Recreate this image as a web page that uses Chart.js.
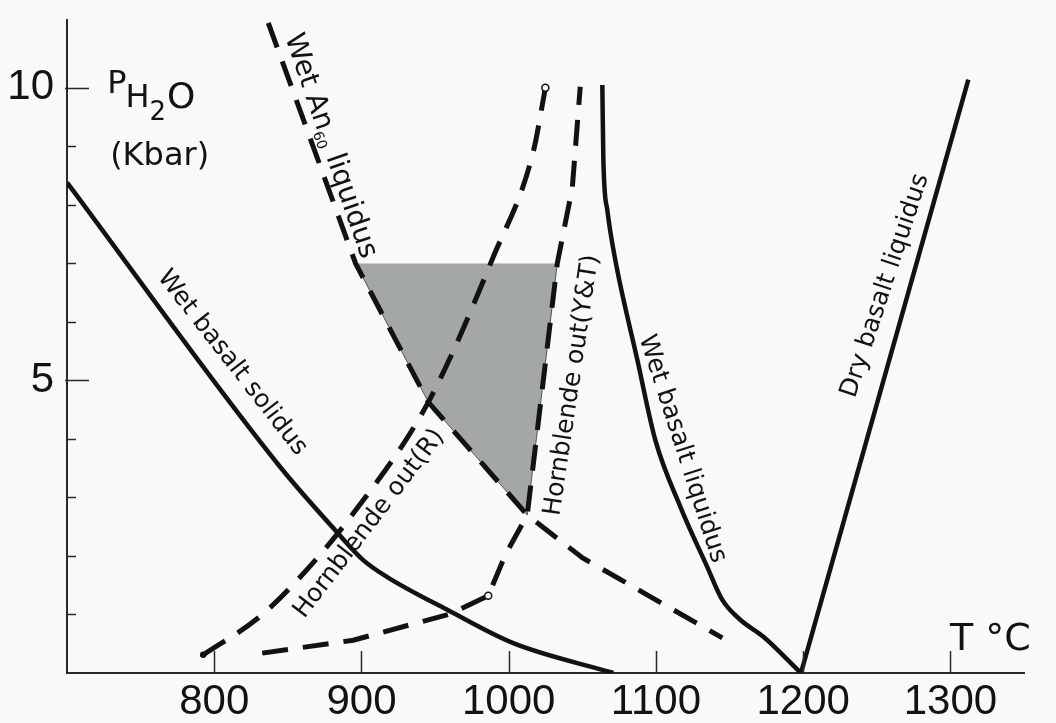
<!DOCTYPE html>
<html>
<head>
<meta charset="utf-8">
<title>Basalt melting relations</title>
<script src="https://cdn.jsdelivr.net/npm/chart.js@4.4.1/dist/chart.umd.min.js"></script>
<style>
  html, body { margin: 0; padding: 0; background: #f9f9f8; }
  #wrap { width: 1056px; height: 723px; position: relative; }
</style>
</head>
<body>
<div id="wrap"><canvas id="phaseChart"></canvas></div>
<script>
// temperature (°C) / water pressure (kbar) along each boundary
const solidusT = [700.1, 844.8, 882.2, 901.2, 917.5, 958.3, 1003.1, 1071.1];
const solidusP = [8.38, 3.52, 2.44, 1.93, 1.64, 1.08, 0.51, 0];

const wetLiqT = [1063.6, 1064.3, 1067.0, 1072.4, 1087.4, 1099.6, 1116.6, 1134.9, 1145.1, 1157.3, 1173.0, 1198.5];
const wetLiqP = [10.05, 8.77, 7.91, 7.06, 5.35, 3.98, 2.84, 1.81, 1.25, 0.91, 0.62, 0];

const dryLiqT = [1198.5, 1312.2];
const dryLiqP = [0, 10.14];

const an60T = [836.7, 896.0, 945.4, 1012.6, 1050.0, 1145.1];
const an60P = [11.11, 7.0, 4.63, 2.70, 1.97, 0.60];

const hbRT = [792.5, 831.3, 858.4, 895.1, 945.4, 989.5, 1016.7, 1024.9];
const hbRP = [0.31, 0.97, 1.64, 2.75, 4.63, 7.11, 8.91, 10.0];

const hbYTT = [832.6, 894.4, 960.3, 986.1, 997.7, 1012.6, 1033.0, 1043.2, 1048.6];
const hbYTP = [0.34, 0.56, 1.01, 1.32, 2.02, 2.70, 7.0, 8.29, 10.02];

// shaded field between the An60 liquidus and hornblende-out (Y&T)
const fieldT = [896.0, 945.4, 1012.6, 1033.0];
const fieldP = [7.0, 4.63, 2.70, 7.0];

const xTicks = [800, 900, 1000, 1100, 1200, 1300];
const yTicks = [5, 10];
const yMinorTicks = [1, 2, 3, 4, 6, 7, 8, 9];

const curveLabels = [
  { text: 'Wet basalt solidus', t: 812.2, p: 5.30, angle: 52 },
  { text: 'Hornblende out(R)', t: 905.3, p: 2.55, angle: -52.5 },
  { text: 'Hornblende out(Y&T)', t: 1043.2, p: 4.92, angle: -81.5 },
  { text: 'Wet basalt liquidus', t: 1117.9, p: 3.83, angle: 72 },
  { text: 'Dry basalt liquidus', t: 1255.8, p: 6.62, angle: -71.7 }
];

const INK = '#121212';
const LABEL_FONT = '25px "DejaVu Sans"';

const pts = (ts, ps) => ts.map((t, i) => ({ x: t, y: ps[i] }));

const solid = {
  showLine: true, borderColor: INK, borderWidth: 4.5, pointRadius: 0,
  cubicInterpolationMode: 'monotone', fill: false
};
const dashed = {
  showLine: true, borderColor: INK, borderWidth: 5, borderDash: [26, 15],
  borderCapStyle: 'butt', pointRadius: 0, tension: 0, fill: false
};

const background = {
  id: 'background',
  beforeDraw(chart) {
    const { ctx, width, height } = chart;
    ctx.save();
    ctx.fillStyle = '#f9f9f8';
    ctx.fillRect(0, 0, width, height);
    ctx.restore();
  }
};

// inward tick marks on both axes
const axisTicks = {
  id: 'axisTicks',
  afterDraw(chart) {
    const { ctx, chartArea } = chart;
    const xs = chart.scales.x, ys = chart.scales.y;
    ctx.save();
    ctx.strokeStyle = '#2a2a2a';
    ctx.lineWidth = 1.5;
    ctx.beginPath();
    xTicks.forEach(v => {
      const px = Math.round(xs.getPixelForValue(v)) + 0.5;
      ctx.moveTo(px, chartArea.bottom);
      ctx.lineTo(px, chartArea.bottom - 22);
    });
    yTicks.forEach(v => {
      const py = Math.round(ys.getPixelForValue(v)) + 0.5;
      ctx.moveTo(chartArea.left - 2, py);
      ctx.lineTo(chartArea.left + 22, py);
    });
    yMinorTicks.forEach(v => {
      const py = Math.round(ys.getPixelForValue(v)) + 0.5;
      ctx.moveTo(chartArea.left, py);
      ctx.lineTo(chartArea.left + 9, py);
    });
    ctx.stroke();
    ctx.restore();
  }
};

const annotations = {
  id: 'annotations',
  afterDraw(chart) {
    const { ctx } = chart;
    const xs = chart.scales.x, ys = chart.scales.y;
    ctx.save();
    ctx.fillStyle = INK;

    // curve names, rotated along their lines
    ctx.font = LABEL_FONT;
    ctx.textAlign = 'center';
    ctx.textBaseline = 'middle';
    curveLabels.forEach(l => {
      ctx.save();
      ctx.translate(xs.getPixelForValue(l.t), ys.getPixelForValue(l.p));
      ctx.rotate(l.angle * Math.PI / 180);
      ctx.fillText(l.text, 0, 0);
      ctx.restore();
    });

    // Wet An60 liquidus, with subscript
    const anFont = '28px "DejaVu Sans"';
    const subFont = '14px "DejaVu Sans"';
    ctx.save();
    ctx.translate(xs.getPixelForValue(880.5), ys.getPixelForValue(9.02));
    ctx.rotate(71 * Math.PI / 180);
    ctx.textAlign = 'left';
    ctx.textBaseline = 'alphabetic';
    ctx.font = anFont;
    const a = ctx.measureText('Wet An').width;
    const c = ctx.measureText(' liquidus').width;
    ctx.font = subFont;
    const b = ctx.measureText('60').width;
    const x0 = -(a + b + c) / 2;
    ctx.font = anFont;
    ctx.fillText('Wet An', x0, 10);
    ctx.font = subFont;
    ctx.fillText('60', x0 + a, 15);
    ctx.font = anFont;
    ctx.fillText(' liquidus', x0 + a + b, 10);
    ctx.restore();

    // axis titles
    ctx.textAlign = 'left';
    ctx.textBaseline = 'alphabetic';
    const px = xs.getPixelForValue(727.3);
    const py = ys.getPixelForValue(9.91);
    ctx.font = '32px "DejaVu Sans"';
    ctx.fillText('P', px, py);
    let w = ctx.measureText('P').width;
    ctx.fillText('H', px + w - 1, py + 14);
    w += ctx.measureText('H').width - 1;
    ctx.font = '26px "DejaVu Sans"';
    ctx.fillText('2', px + w, py + 27);
    w += ctx.measureText('2').width + 1;
    ctx.font = '36px "DejaVu Sans"';
    ctx.fillText('O', px + w, py + 15);

    ctx.font = '32px "DejaVu Sans"';
    ctx.fillText('(Kbar)', xs.getPixelForValue(729.3), ys.getPixelForValue(8.68));

    ctx.font = '38px "DejaVu Sans"';
    ctx.textAlign = 'center';
    ctx.fillText('T °C', xs.getPixelForValue(1327.2), ys.getPixelForValue(0.40));
    ctx.restore();
  }
};

new Chart(document.getElementById('phaseChart'), {
  type: 'scatter',
  data: {
    datasets: [
      { ...solid, data: pts(solidusT, solidusP) },
      { ...solid, data: pts(wetLiqT, wetLiqP) },
      { ...solid, tension: 0, cubicInterpolationMode: 'default', data: pts(dryLiqT, dryLiqP) },
      { ...dashed, data: pts(an60T, an60P) },
      {
        ...dashed, cubicInterpolationMode: 'monotone', data: pts(hbRT, hbRP),
        pointRadius: hbRT.map((_, i) => i === 0 ? 2.5 : (i === hbRT.length - 1 ? 3.5 : 0)),
        pointBackgroundColor: hbRT.map((_, i) => i === 0 ? INK : '#f9f9f8'),
        pointBorderColor: INK, pointBorderWidth: 1.5
      },
      {
        ...dashed, data: pts(hbYTT, hbYTP),
        pointRadius: hbYTT.map((_, i) => i === 3 ? 3.5 : 0),
        pointBackgroundColor: '#f9f9f8', pointBorderColor: INK, pointBorderWidth: 1.5
      },
      {
        data: pts(fieldT, fieldP), showLine: true, fill: 'shape', tension: 0,
        backgroundColor: '#a4a7a7', borderColor: '#555', borderWidth: 1,
        pointRadius: 0, order: 10
      }
    ]
  },
  options: {
    responsive: true,
    maintainAspectRatio: false,
    devicePixelRatio: 1,
    animation: false,
    layout: { padding: { left: 0, right: 32, top: 20, bottom: 0 } },
    plugins: { legend: { display: false }, tooltip: { enabled: false } },
    scales: {
      x: {
        type: 'linear', min: 700, max: 1350,
        afterBuildTicks: s => { s.ticks = xTicks.map(v => ({ value: v })); },
        afterFit: s => { s.height = 50; s.paddingLeft = 0; s.paddingRight = 0; },
        grid: { display: false, drawTicks: false },
        border: { display: true, color: '#2a2a2a', width: 2 },
        ticks: {
          autoSkip: false, maxRotation: 0, padding: 4, color: INK,
          font: { family: 'Liberation Sans', size: 42 },
          callback: v => String(v)
        }
      },
      y: {
        type: 'linear', min: 0, max: 11.16,
        afterBuildTicks: s => { s.ticks = yTicks.map(v => ({ value: v })); },
        afterFit: s => { s.width = 67; s.paddingTop = 0; s.paddingBottom = 0; },
        grid: { display: false, drawTicks: false },
        border: { display: true, color: '#2a2a2a', width: 2 },
        ticks: {
          padding: 13, color: INK,
          font: { family: 'Liberation Sans', size: 42 },
          callback: v => String(v)
        }
      }
    }
  },
  plugins: [background, axisTicks, annotations]
});
</script>
</body>
</html>
